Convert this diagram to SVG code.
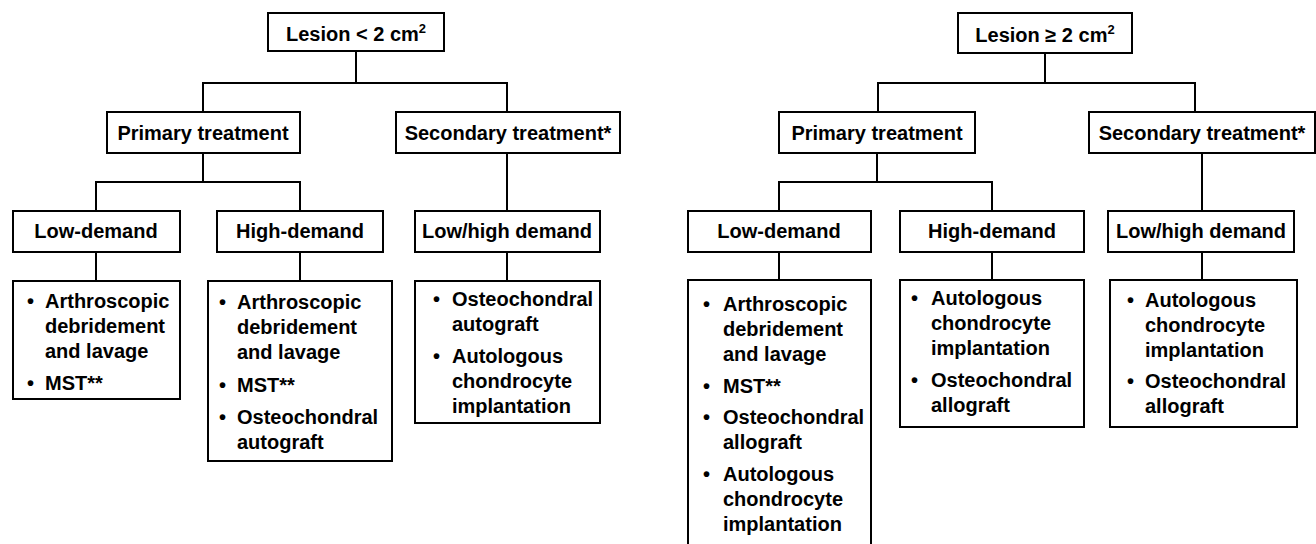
<svg xmlns="http://www.w3.org/2000/svg" width="1316" height="544" viewBox="0 0 1316 544">
<style>
.box{fill:#fff;stroke:#000;stroke-width:2}
.lbl{font-family:"Liberation Sans",Arial,sans-serif;font-weight:bold;font-size:20px;fill:#000}
.c{text-anchor:middle}
.conn path{fill:none;stroke:#000;stroke-width:2}
</style>
<rect width="1316" height="544" fill="#fff"/>
<g class="conn" id="connectors">
<path d="M356 51V83M203 112V83H507V112"/>
<path d="M203 153V182M96 211V182H300V211"/>
<path d="M507 153V211"/>
<path d="M96 252V281M300 252V281M507 252V281"/>
<path d="M1045 53V83M878 112V83H1195V112"/>
<path d="M877 153V182M779 211V182H992V211"/>
<path d="M1202 153V211"/>
<path d="M779 252V280M992 252V280M1202 252V280"/>
</g>
<g id="root-left"><rect class="box" x="268" y="13" width="176" height="38"/><text class="lbl c" x="356" y="41">Lesion &lt; 2 cm<tspan font-size="13" dy="-8">2</tspan></text></g>
<g id="primary-left"><rect class="box" x="107" y="112" width="193" height="41"/><text class="lbl c" x="203" y="140">Primary treatment</text></g>
<g id="secondary-left"><rect class="box" x="396" y="112" width="224" height="41"/><text class="lbl c" x="508" y="140">Secondary treatment*</text></g>
<g id="low-left"><rect class="box" x="13" y="211" width="167" height="41"/><text class="lbl c" x="96" y="238">Low-demand</text></g>
<g id="high-left"><rect class="box" x="217" y="211" width="166" height="41"/><text class="lbl c" x="300" y="238">High-demand</text></g>
<g id="lowhigh-left"><rect class="box" x="415" y="211" width="185" height="41"/><text class="lbl c" x="507" y="238">Low/high demand</text></g>
<g id="leaf-low-left"><rect class="box" x="13" y="281" width="167" height="118"/>
<text class="lbl"><tspan x="27" y="308">•</tspan><tspan x="45" y="308">Arthroscopic</tspan><tspan x="45" y="333">debridement</tspan><tspan x="45" y="358">and lavage</tspan><tspan x="27" y="390">•</tspan><tspan x="45" y="390">MST**</tspan></text></g>
<g id="leaf-high-left"><rect class="box" x="208" y="281" width="184" height="180"/>
<text class="lbl"><tspan x="219" y="309">•</tspan><tspan x="237" y="309">Arthroscopic</tspan><tspan x="237" y="334">debridement</tspan><tspan x="237" y="359">and lavage</tspan><tspan x="219" y="392">•</tspan><tspan x="237" y="392">MST**</tspan><tspan x="219" y="424">•</tspan><tspan x="237" y="424">Osteochondral</tspan><tspan x="237" y="449">autograft</tspan></text></g>
<g id="leaf-lowhigh-left"><rect class="box" x="415" y="281" width="185" height="142"/>
<text class="lbl"><tspan x="433" y="306">•</tspan><tspan x="452" y="306">Osteochondral</tspan><tspan x="452" y="331">autograft</tspan><tspan x="433" y="363">•</tspan><tspan x="452" y="363">Autologous</tspan><tspan x="452" y="388">chondrocyte</tspan><tspan x="452" y="413">implantation</tspan></text></g>
<g id="root-right"><rect class="box" x="958" y="13" width="174" height="40"/><text class="lbl c" x="1045" y="42">Lesion ≥ 2 cm<tspan font-size="13" dy="-8">2</tspan></text></g>
<g id="primary-right"><rect class="box" x="779" y="112" width="196" height="41"/><text class="lbl c" x="877" y="140">Primary treatment</text></g>
<g id="secondary-right"><rect class="box" x="1089" y="112" width="226" height="41"/><text class="lbl c" x="1202" y="140">Secondary treatment*</text></g>
<g id="low-right"><rect class="box" x="688" y="211" width="183" height="41"/><text class="lbl c" x="779" y="238">Low-demand</text></g>
<g id="high-right"><rect class="box" x="900" y="211" width="184" height="41"/><text class="lbl c" x="992" y="238">High-demand</text></g>
<g id="lowhigh-right"><rect class="box" x="1108" y="211" width="186" height="41"/><text class="lbl c" x="1201" y="238">Low/high demand</text></g>
<g id="leaf-low-right"><rect class="box" x="688" y="280" width="183" height="270"/>
<text class="lbl"><tspan x="703" y="311">•</tspan><tspan x="723" y="311">Arthroscopic</tspan><tspan x="723" y="336">debridement</tspan><tspan x="723" y="361">and lavage</tspan><tspan x="703" y="393">•</tspan><tspan x="723" y="393">MST**</tspan><tspan x="703" y="424">•</tspan><tspan x="723" y="424">Osteochondral</tspan><tspan x="723" y="449">allograft</tspan><tspan x="703" y="481">•</tspan><tspan x="723" y="481">Autologous</tspan><tspan x="723" y="506">chondrocyte</tspan><tspan x="723" y="531">implantation</tspan></text></g>
<g id="leaf-high-right"><rect class="box" x="900" y="280" width="184" height="147"/>
<text class="lbl"><tspan x="911" y="305">•</tspan><tspan x="931" y="305">Autologous</tspan><tspan x="931" y="330">chondrocyte</tspan><tspan x="931" y="355">implantation</tspan><tspan x="911" y="387">•</tspan><tspan x="931" y="387">Osteochondral</tspan><tspan x="931" y="412">allograft</tspan></text></g>
<g id="leaf-lowhigh-right"><rect class="box" x="1110" y="280" width="187" height="147"/>
<text class="lbl"><tspan x="1127" y="307">•</tspan><tspan x="1145" y="307">Autologous</tspan><tspan x="1145" y="332">chondrocyte</tspan><tspan x="1145" y="357">implantation</tspan><tspan x="1127" y="388">•</tspan><tspan x="1145" y="388">Osteochondral</tspan><tspan x="1145" y="413">allograft</tspan></text></g>
</svg>
